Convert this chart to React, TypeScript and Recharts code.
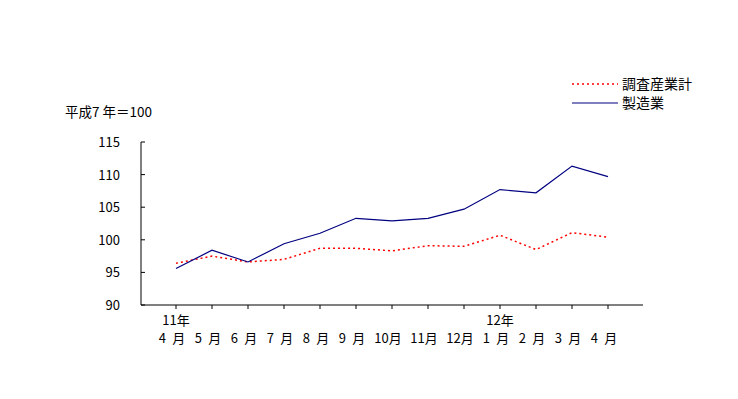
import { LineChart, Line, XAxis, YAxis } from "recharts";

const months = ["4 月", "5 月", "6 月", "7 月", "8 月", "9 月", "10月", "11月", "12月", "1 月", "2 月", "3 月", "4 月"];
const years = ["11年", "", "", "", "", "", "", "", "", "12年", "", "", ""];
const chousa = [96.4, 97.5, 96.6, 97.0, 98.7, 98.7, 98.3, 99.1, 99.0, 100.7, 98.5, 101.1, 100.4];
const seizo = [95.6, 98.4, 96.6, 99.4, 101.0, 103.3, 102.9, 103.3, 104.7, 107.7, 107.2, 111.3, 109.7];
const yTicks = [90, 95, 100, 105, 110, 115];
const seriesNames = ["調査産業計", "製造業"];

const data = months.map((m, i) => ({ month: m, year: years[i], chousa: chousa[i], seizo: seizo[i] }));

const FONT = '"Noto Sans CJK JP", sans-serif';

function MonthTick({ x, y, payload, index }: any) {
  return (
    <g>
      {years[index] ? (
        <text x={x} y={y + 12} textAnchor="middle" fontSize={13} fontFamily={FONT} fill="#000">
          {years[index]}
        </text>
      ) : null}
      <text x={x - 4} y={y + 30} textAnchor="middle" fontSize={13} fontFamily={FONT} fill="#000">
        {payload.value.replace(" ", "\u2002")}
      </text>
    </g>
  );
}

function ValueTick({ x, y, payload }: any) {
  return (
    <g>
      <text x={x} y={y} dy={5} textAnchor="end" fontSize={13} fontFamily={FONT} fill="#000">
        {payload.value}
      </text>
      <line x1={x + 21} x2={x + 25} y1={y} y2={y} stroke="#000" />
    </g>
  );
}

function LegendRow({ color, dash, label }: { color: string; dash?: string; label: string }) {
  return (
    <div style={{ display: "flex", alignItems: "center", height: 19 }}>
      <svg width={50} height={10} style={{ display: "block" }}>
        <line x1={2} x2={48} y1={5} y2={5} stroke={color} strokeWidth={dash ? 1.5 : 1.2} strokeDasharray={dash} />
      </svg>
      <span style={{ fontSize: 14, fontFamily: FONT, marginLeft: 2, whiteSpace: "nowrap", lineHeight: "19px" }}>{label}</span>
    </div>
  );
}

export default function App() {
  return (
    <div style={{ position: "absolute", left: 0, top: 0, width: 738, height: 399, background: "#fff" }}>
      <LineChart width={738} height={399} data={data} margin={{ top: 142, right: 95, bottom: 44, left: 91 }}>
        <XAxis
          dataKey="month"
          padding={{ left: 35, right: 35 }}
          height={50}
          tickSize={4}
          tickMargin={4}
          stroke="#000"
          tick={<MonthTick />}
          interval={0}
        />
        <YAxis
          domain={[90, 115]}
          ticks={yTicks}
          width={50}
          tickLine={false}
          tickSize={4}
          tickMargin={17}
          stroke="#000"
          tick={<ValueTick />}
          interval={0}
        />
        <Line dataKey="chousa" name={seriesNames[0]} stroke="#ff0000" strokeWidth={1.5} strokeDasharray="2 3" dot={false} isAnimationActive={false} />
        <Line dataKey="seizo" name={seriesNames[1]} stroke="#000080" strokeWidth={1.2} dot={false} isAnimationActive={false} />
      </LineChart>
      <div style={{ position: "absolute", left: 65, top: 101, fontSize: 13.5, fontFamily: FONT, whiteSpace: "nowrap" }}>
        平成7 年＝100
      </div>
      <div style={{ position: "absolute", left: 570, top: 74, width: 150 }}>
        <LegendRow color="#ff0000" dash="2 3" label={seriesNames[0]} />
        <LegendRow color="#000080" label={seriesNames[1]} />
      </div>
    </div>
  );
}
